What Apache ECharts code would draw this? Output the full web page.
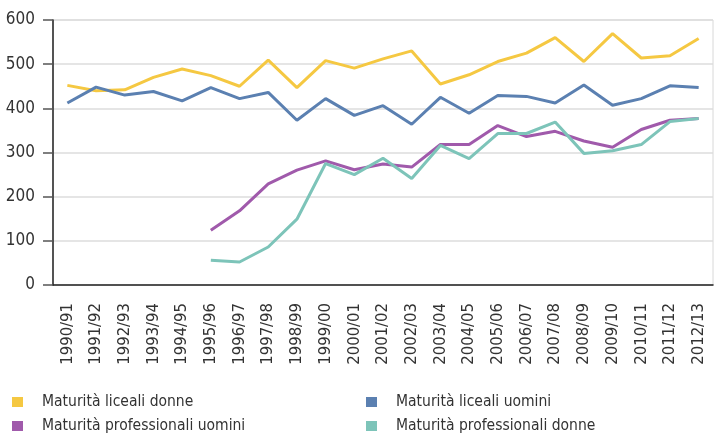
<!DOCTYPE html>
<html>
<head>
<meta charset="utf-8">
<script src="https://cdn.jsdelivr.net/npm/echarts@6/dist/echarts.min.js"></script>
<style>
html, body { margin: 0; padding: 0; background: #fff; }
#main { width: 715px; height: 433px; }
</style>
</head>
<body>
<div id="main"></div>
<script>
// anni scolastici
var anni = ['1990/91', '1991/92', '1992/93', '1993/94', '1994/95', '1995/96', '1996/97', '1997/98',
	'1998/99', '1999/00', '2000/01', '2001/02', '2002/03', '2003/04', '2004/05', '2005/06',
	'2006/07', '2007/08', '2008/09', '2009/10', '2010/11', '2011/12', '2012/13'];

var licealiDonne = [452, 440, 442, 470, 489, 474, 450, 509, 447, 508, 491, 512, 530, 455, 476, 506,
	525, 560, 506, 569, 514, 519, 558];
var licealiUomini = [412, 448, 430, 438, 417, 447, 422, 436, 373, 422, 384, 406, 364, 425, 389, 429,
	427, 412, 453, 407, 422, 451, 447];
var profUomini = ['-', '-', '-', '-', '-', 124, 168, 229, 260, 281, 261, 274, 267, 318, 318, 361,
	336, 348, 326, 312, 352, 373, 377];
var profDonne = ['-', '-', '-', '-', '-', 56, 52, 86, 149, 275, 250, 287, 241, 316, 286, 343,
	343, 369, 298, 304, 318, 370, 377];

var yMin = 0, yMax = 600, yStep = 100;

var font = '"Liberation Sans Narrow", "DejaVu Sans Condensed", sans-serif';

var myChart = echarts.init(document.getElementById('main'));

function legendItem(name, left, top) {
	return {
		data: [name],
		left: left,
		top: top,
		icon: 'rect',
		itemWidth: 11,
		itemHeight: 10,
		padding: 0,
		selectedMode: false,
		textStyle: {
			fontFamily: font,
			fontSize: 15.5,
			color: '#333',
			padding: [0, 0, 0, 14]
		}
	};
}

option = {
	animation: false,
	color: ['#F5C842', '#5B80B1', '#A05AAB', '#7DC4B9'],
	grid: {
		left: 53,
		right: 2,
		top: 20,
		bottom: 148,
		show: true,
		borderColor: '#d8d8d8',
		borderWidth: 1
	},
	legend: [
		legendItem('Maturità liceali donne', 12, 394),
		legendItem('Maturità liceali uomini', 366, 394),
		legendItem('Maturità professionali uomini', 12, 418),
		legendItem('Maturità professionali donne', 366, 418)
	],
	xAxis: {
		type: 'category',
		data: anni,
		boundaryGap: true,
		axisLine: { lineStyle: { color: '#222', width: 1.5 } },
		axisTick: { length: 11, lineStyle: { color: '#444', width: 1.5 } },
		axisLabel: {
			interval: 0,
			rotate: 90,
			margin: 18,
			fontFamily: font,
			fontSize: 16.5,
			color: '#333'
		}
	},
	yAxis: {
		type: 'value',
		min: yMin,
		max: yMax,
		interval: yStep,
		axisLine: { show: true, lineStyle: { color: '#222', width: 1.5 } },
		axisTick: { show: true, length: 10, lineStyle: { color: '#555', width: 1.5 } },
		axisLabel: {
			margin: 18,
			fontFamily: font,
			fontSize: 17,
			color: '#333'
		},
		splitLine: { lineStyle: { color: '#dcdcdc', width: 1.5 } }
	},
	series: [
		{ name: 'Maturità liceali donne', type: 'line', data: licealiDonne, symbol: 'none', lineStyle: { width: 3 } },
		{ name: 'Maturità liceali uomini', type: 'line', data: licealiUomini, symbol: 'none', lineStyle: { width: 3 } },
		{ name: 'Maturità professionali uomini', type: 'line', data: profUomini, symbol: 'none', lineStyle: { width: 3 } },
		{ name: 'Maturità professionali donne', type: 'line', data: profDonne, symbol: 'none', lineStyle: { width: 3 } }
	]
};
myChart.setOption(option);
</script>
</body>
</html>
